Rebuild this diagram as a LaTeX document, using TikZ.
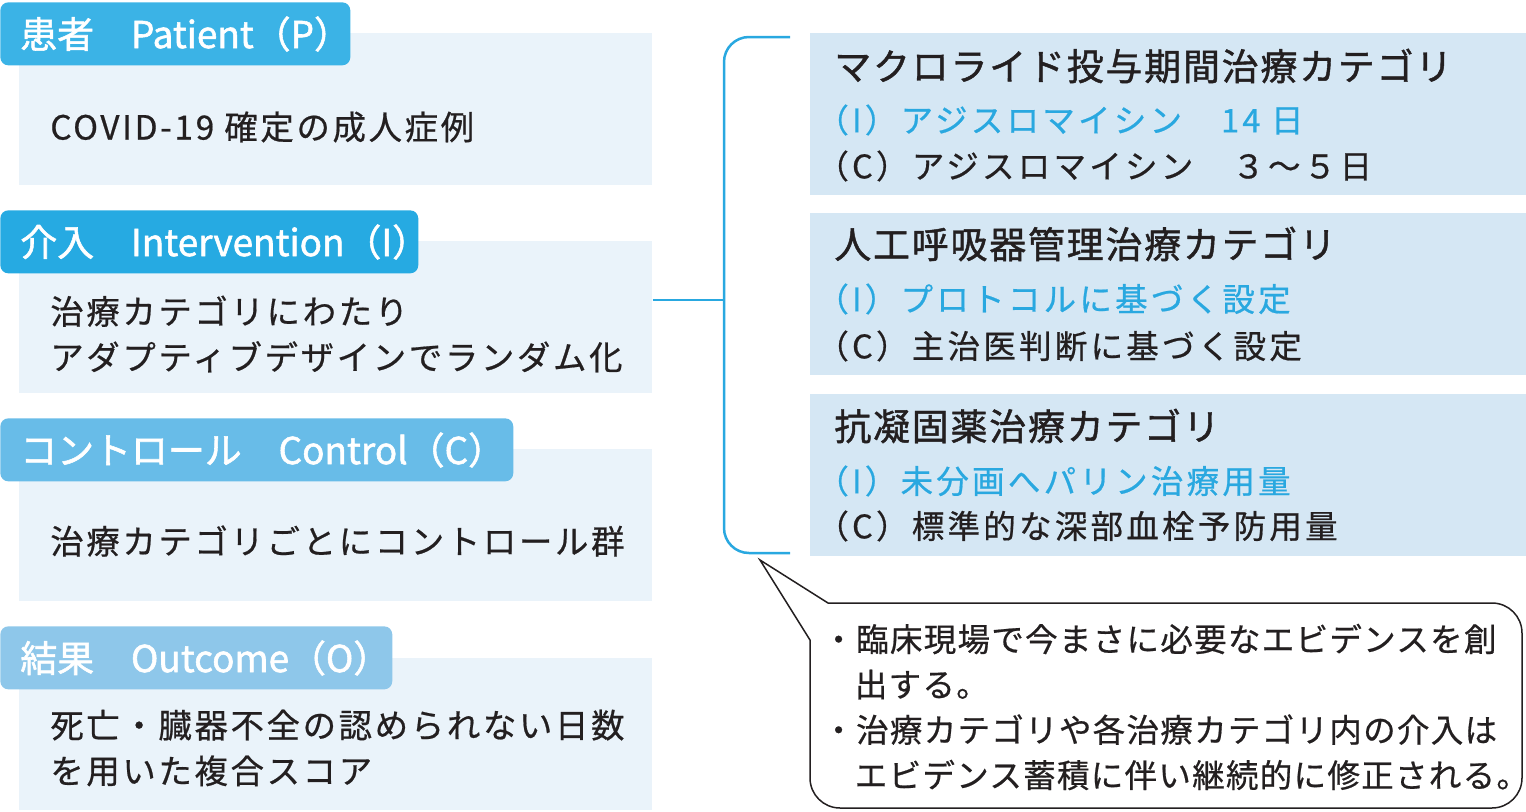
\documentclass[tikz,border=0pt]{standalone}
\usepackage{fontspec}
\setmainfont{Noto Sans CJK JP}
\newfontfamily\headfont{Noto Sans CJK JP}[FakeBold=1.5]
\newfontfamily\bodyfont{Noto Sans CJK JP}[LetterSpace=8, FakeBold=0.6]
\newfontfamily\titlefont{Noto Sans CJK JP}[LetterSpace=5, FakeBold=1.2]
\newfontfamily\catfont{Noto Sans CJK JP}[LetterSpace=10, FakeBold=0.6]
\newfontfamily\notefont{Noto Sans CJK JP}[LetterSpace=4, FakeBold=0.6]
\definecolor{headP}{RGB}{59,179,230}
\definecolor{headI}{RGB}{38,170,226}
\definecolor{headC}{RGB}{104,188,232}
\definecolor{headO}{RGB}{142,199,234}
\definecolor{bodyfill}{RGB}{234,243,250}
\definecolor{catfill}{RGB}{213,231,244}
\definecolor{accentblue}{RGB}{41,168,224}
\definecolor{textdark}{RGB}{35,31,32}
\newcommand\bulletgap{\hphantom{・}}

\begin{document}
\begin{tikzpicture}[x=0.02cm, y=-0.02cm,
  headbox/.style={rounded corners=0.16cm, minimum height=1.26cm, anchor=north west, inner sep=0},
  headtext/.style={text=white, font=\headfont\fontsize{21}{25}\selectfont, anchor=west, inner sep=0},
  bodybox/.style={fill=bodyfill, minimum width=12.66cm, minimum height=3.04cm, anchor=north west, inner sep=0},
  bodytext/.style={text=textdark, font=\bodyfont\fontsize{19}{26}\selectfont, anchor=west, align=left, inner sep=0},
  catbox/.style={fill=catfill, minimum width=14.32cm, minimum height=3.24cm, anchor=north west, inner sep=0},
  cattitle/.style={text=textdark, font=\titlefont\fontsize{21}{25}\selectfont, anchor=west, inner sep=0},
  catline/.style={text=textdark, font=\catfont\fontsize{18.5}{22}\selectfont, anchor=west, inner sep=0},
  bracket/.style={accentblue, line width=0.05cm},
  callout/.style={draw=textdark, line width=0.03cm, fill=white}]
\useasboundingbox (0,0) rectangle (1526,812);

% PICO の左側
\node[bodybox] (bodyP) at (19,33) {};
\node[bodybox] (bodyI) at (19,241) {};
\node[bodybox] (bodyC) at (19,449) {};
\node[bodybox] (bodyO) at (19,658) {};

\node[headbox, fill=headP, minimum width=7cm] (headP) at (0,2) {};
\node[headbox, fill=headI, minimum width=8.36cm] (headI) at (0,210) {};
\node[headbox, fill=headC, minimum width=10.26cm] (headC) at (0,418) {};
\node[headbox, fill=headO, minimum width=7.84cm] (headO) at (0,626) {};

\node[headtext] (headPtxt) at (20,34) {患者　Patient（P）};
\node[headtext] (headItxt) at (20,242) {介入　Intervention（I）};
\node[headtext] (headCtxt) at (20,450) {コントロール　Control（C）};
\node[headtext] (headOtxt) at (20,658) {結果　Outcome（O）};

\node[bodytext] (txtP) at (50,127) {COVID-19 確定の成人症例};
\node[bodytext] (txtI) at (50,334) {治療カテゴリにわたり\\アダプティブデザインでランダム化};
\node[bodytext] (txtC) at (50,541) {治療カテゴリごとにコントロール群};
\node[bodytext] (txtO) at (50,748) {死亡・臓器不全の認められない日数\\を用いた複合スコア};

% 治療カテゴリ
\node[catbox] (cat1) at (810,33) {};
\node[catbox] (cat2) at (810,213) {};
\node[catbox] (cat3) at (810,394) {};

\node[cattitle] (cat1t) at (834,66) {マクロライド投与期間治療カテゴリ};
\node[catline, text=accentblue] (cat1i) at (816,120) {（I）アジスロマイシン　14 日};
\node[catline] (cat1c) at (816,166) {（C）アジスロマイシン　３～５日};

\node[cattitle] (cat2t) at (834,244) {人工呼吸器管理治療カテゴリ};
\node[catline, text=accentblue] (cat2i) at (816,299) {（I）プロトコルに基づく設定};
\node[catline] (cat2c) at (816,346) {（C）主治医判断に基づく設定};

\node[cattitle] (cat3t) at (834,426) {抗凝固薬治療カテゴリ};
\node[catline, text=accentblue] (cat3i) at (816,481) {（I）未分画へパリン治療用量};
\node[catline] (cat3c) at (816,526) {（C）標準的な深部血栓予防用量};

% 括弧と接続線
\coordinate (brkTop) at (790,37);
\coordinate (brkBot) at (790,553);
\coordinate (brkMid) at (724,300);
\draw[bracket, rounded corners=0.5cm] (brkTop) -| (brkMid) |- (brkBot);
\draw[bracket] (bodyI.east |- brkMid) -- (brkMid);

% 吹き出し
\coordinate (tip) at (760,560);
\draw[callout] (tip) -- (828,603) [rounded corners=0.6cm] -- (1522,603) -- (1522,808) -- (810,808) [sharp corners] -- (810,640) -- cycle;
\node[catline, align=left, font=\notefont\fontsize{18.5}{25.8}\selectfont] (note) at (822,707)
  {・臨床現場で今まさに必要なエビデンスを創\\\bulletgap 出する。\\・治療カテゴリや各治療カテゴリ内の介入は\\\bulletgap エビデンス蓄積に伴い継続的に修正される。};
\end{tikzpicture}
\end{document}
